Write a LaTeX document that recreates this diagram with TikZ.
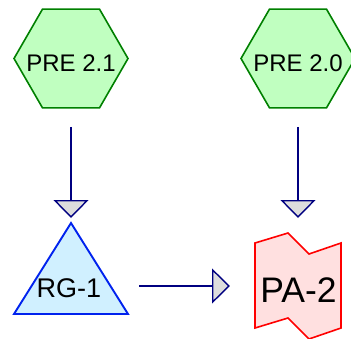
\documentclass[tikz,border=0pt]{standalone}
\usepackage{fontspec}
\setmainfont{Liberation Sans}
\usetikzlibrary{shapes.geometric,arrows.meta,calc}
\definecolor{hexfill}{HTML}{C0FFC0}
\definecolor{hexline}{HTML}{008000}
\definecolor{trifill}{HTML}{D0F0FF}
\definecolor{triline}{HTML}{0022EE}
\definecolor{pafill}{HTML}{FFE0E0}
\definecolor{paline}{HTML}{FF0000}
\definecolor{conn}{HTML}{000080}
\definecolor{tipfill}{HTML}{DDDDDD}
\tikzset{
  hexnode/.style={regular polygon, regular polygon sides=6,
    minimum size=114pt, inner sep=0pt, outer sep=0pt, draw=hexline, fill=hexfill,
    line width=1.6pt, font=\fontsize{24}{28}\selectfont},
  boxnode/.style={rectangle, inner sep=0pt, outer sep=0pt},
  trishape/.style={draw=triline, fill=trifill, line width=1.9pt, line join=miter},
  pashape/.style={draw=paline, fill=pafill, line width=1.6pt, line join=miter},
  labeltext/.style={inner sep=0pt, outer sep=0pt},
  conn/.style={draw=conn, line width=1.4pt,
    -{Triangle[length=18pt, width=35pt, fill=tipfill]}},
}
\newcommand{\hextext}[1]{\makebox[0pt]{\raisebox{-12.5pt}[0pt][0pt]{#1}}}
\begin{document}
\begin{tikzpicture}[x=1pt, y=-1pt]
\useasboundingbox (0,0) rectangle (351,338);
% nodes
\node[hexnode] (pre21) at (71,58.5) {\hextext{PRE 2.1}};
\node[hexnode] (pre20) at (298,58.5) {\hextext{PRE 2.0}};
\node[boxnode, minimum width=114pt, minimum height=91pt] (rg1) at (71,268.5) {};
\node[boxnode, minimum width=86pt, minimum height=106pt] (pa2) at (298,286) {};
% shapes
\draw[trishape] (rg1.south west) -- (rg1.north) -- (rg1.south east) -- cycle;
\draw[pashape]
  ($(pa2.north west)+(0,10)$) -- ($(pa2.north west)+(33,0)$) -- ($(pa2.north west)+(54,21)$)
  -- ($(pa2.north east)+(0,10)$) -- ($(pa2.north east)+(0,95)$)
  -- ($(pa2.north west)+(54,106)$) -- ($(pa2.north west)+(33,85)$)
  -- ($(pa2.north west)+(0,95)$) -- cycle;
% texts
\node[labeltext, font=\fontsize{27}{30}\selectfont, anchor=base] (rg1t) at (69,297) {RG-1};
\node[labeltext, font=\fontsize{35.5}{40}\selectfont, anchor=base] (pa2t) at (298.5,302) {PA-2};
% connectors
\draw[conn, shorten <=19pt, shorten >=5pt] (pre21.south) -- (rg1.north);
\draw[conn, shorten <=19pt, shorten >=15pt] (pre20.south) -- (pa2.north);
\draw[conn, shorten <=11pt, shorten >=25pt] (rg1.east |- pa2.west) -- (pa2.west);
\end{tikzpicture}
\end{document}
